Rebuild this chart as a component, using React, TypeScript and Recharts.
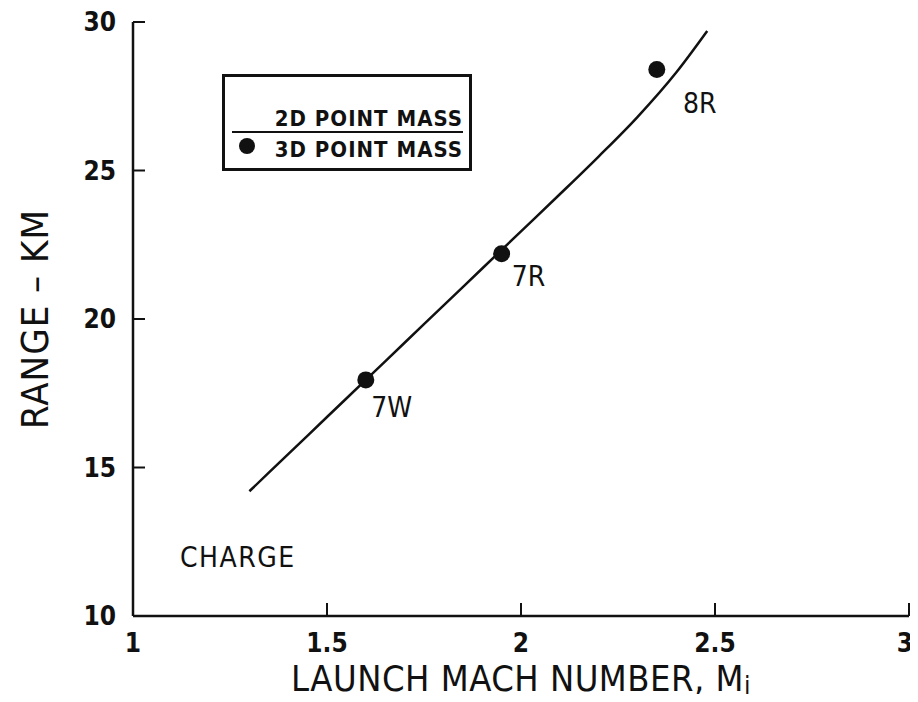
import React from "react";
import { ComposedChart, Line, Scatter, XAxis, YAxis, Legend, ReferenceDot } from "recharts";

// 2D point mass curve
const curveMach = [1.3, 1.4, 1.5, 1.6, 1.7, 1.8, 1.9, 2.0, 2.1, 2.2, 2.3, 2.4, 2.48];
const curveRange = [14.2, 15.45, 16.7, 17.95, 19.2, 20.45, 21.7, 22.95, 24.2, 25.47, 26.8, 28.3, 29.7];

// 3D point mass runs
const pointMach = [1.6, 1.95, 2.35];
const pointRange = [17.95, 22.2, 28.4];
const pointCharge = ["7W", "7R", "8R"];

const xTicks = [1, 1.5, 2, 2.5, 3];
const yTicks = [10, 15, 20, 25, 30];

const curve = curveMach.map((x, i) => ({ x, y: curveRange[i] }));
const points = pointMach.map((x, i) => ({ x, y: pointRange[i], charge: pointCharge[i] }));

const FONT = "'DejaVu Sans Condensed', 'DejaVu Sans', sans-serif";
const INK = "#111";

// where each charge label sits relative to its dot
const labelShift: Record<string, { dx: number; dy: number }> = {
  "7W": { dx: 26, dy: 28 },
  "7R": { dx: 27, dy: 23 },
  "8R": { dx: 43, dy: 34 },
};

const YTick = ({ x, y, payload }: any) => (
  <g>
    <line x1={x} x2={x + 12} y1={y} y2={y} stroke={INK} strokeWidth={2} />
    <text x={x - 17} y={y} textAnchor="end" dominantBaseline="central" fontFamily={FONT} fontWeight="bold" fontSize={26} fill={INK}>
      {payload.value}
    </text>
  </g>
);

const XTick = ({ x, y, payload, index }: any) => {
  const last = index === xTicks.length - 1;
  return (
    <g>
      <line x1={x} x2={x} y1={y} y2={y - 13} stroke={INK} strokeWidth={2} />
      <text
        x={last ? x + 4 : x}
        y={y + 27}
        textAnchor={last ? "end" : "middle"}
        dominantBaseline="central"
        fontFamily={FONT}
        fontWeight="bold"
        fontSize={26}
        fill={INK}
      >
        {payload.value}
      </text>
    </g>
  );
};

const XTitle = ({ viewBox }: any) => {
  const cx = viewBox.x + viewBox.width / 2;
  return (
    <text x={cx} y={viewBox.y + 75} textAnchor="middle" fontFamily={FONT} fontSize={36} letterSpacing={0.5} fill={INK}>
      LAUNCH MACH NUMBER, M
      <tspan fontSize={26} dy={4}>i</tspan>
    </text>
  );
};

const YTitle = ({ viewBox }: any) => {
  const cy = viewBox.y + viewBox.height / 2;
  const cx = 35;
  return (
    <text x={cx} y={cy} transform={`rotate(-90 ${cx} ${cy})`} textAnchor="middle" dominantBaseline="central" fontFamily={FONT} fontSize={38} letterSpacing={1} fill={INK}>
      RANGE – KM
    </text>
  );
};

const Dot = ({ cx, cy, payload }: any) => {
  const s = labelShift[payload.charge];
  return (
    <g>
      <circle cx={cx} cy={cy} r={8.5} fill={INK} />
      <text x={cx + s.dx} y={cy + s.dy} textAnchor="middle" dominantBaseline="central" fontFamily={FONT} fontSize={28} fill={INK}>
        {payload.charge}
      </text>
    </g>
  );
};

const LegendBox = () => (
  <svg width={250} height={97} style={{ display: "block" }}>
    <rect x={1.5} y={1.5} width={247} height={94} fill="#fff" stroke={INK} strokeWidth={3} />
    <text x={241} y={52} textAnchor="end" fontFamily={FONT} fontWeight="bold" fontSize={22} letterSpacing={1} fill={INK}>
      2D POINT MASS
    </text>
    <line x1={10} x2={241} y1={58} y2={58} stroke={INK} strokeWidth={2} />
    <circle cx={25} cy={72} r={8} fill={INK} />
    <text x={241} y={83} textAnchor="end" fontFamily={FONT} fontWeight="bold" fontSize={22} letterSpacing={1} fill={INK}>
      3D POINT MASS
    </text>
  </svg>
);

export default function App() {
  return (
    <div style={{ position: "relative", width: 918, height: 702, margin: -8, background: "#fff" }}>
      <ComposedChart width={918} height={702} margin={{ top: 22, right: 9, bottom: 0, left: 0 }}>
        <XAxis
          type="number"
          dataKey="x"
          domain={[1, 3]}
          ticks={xTicks}
          height={86}
          tickSize={0}
          tickMargin={0}
          tick={<XTick />}
          axisLine={{ stroke: INK, strokeWidth: 2.5 }}
          allowDataOverflow
          label={<XTitle />}
        />
        <YAxis
          type="number"
          dataKey="y"
          domain={[10, 30]}
          ticks={yTicks}
          width={133}
          tickSize={0}
          tickMargin={0}
          tick={<YTick />}
          axisLine={{ stroke: INK, strokeWidth: 2.5 }}
          allowDataOverflow
          label={<YTitle />}
        />
        <Line
          data={curve}
          dataKey="y"
          name="2D POINT MASS"
          type="monotone"
          stroke={INK}
          strokeWidth={2.5}
          dot={false}
          isAnimationActive={false}
        />
        <Scatter data={points} dataKey="y" name="3D POINT MASS" fill={INK} shape={<Dot />} isAnimationActive={false} />
        <ReferenceDot
          x={1.27}
          y={12}
          r={0}
          fill="none"
          stroke="none"
          label={{ value: "CHARGE", position: "center", fontFamily: FONT, fontSize: 28, letterSpacing: 1.5, fill: INK }}
        />
        <Legend
          layout="horizontal"
          verticalAlign="middle"
          align="center"
          content={<LegendBox />}
          wrapperStyle={{ position: "absolute", left: 222, top: 74, width: 250 }}
        />
      </ComposedChart>
    </div>
  );
}
